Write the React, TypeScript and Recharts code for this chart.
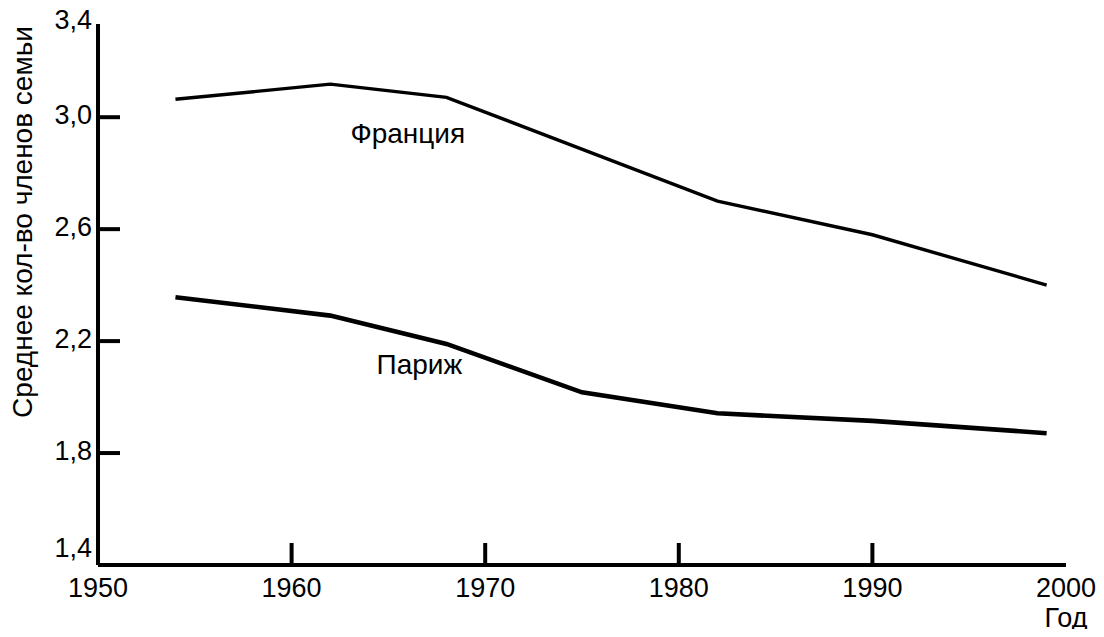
import React from 'react';
import { LineChart, Line, XAxis, YAxis, ReferenceDot } from 'recharts';

const franceYears = [1954, 1962, 1968, 1982, 1990, 1999];
const franceValues = [3.064, 3.118, 3.071, 2.70, 2.58, 2.40];
const parisYears = [1954, 1962, 1968, 1975, 1982, 1990, 1999];
const parisValues = [2.357, 2.291, 2.19, 2.017, 1.942, 1.915, 1.871];

const xTicks = [1950, 1960, 1970, 1980, 1990, 2000];
const xTickLabels = ['1950', '1960', '1970', '1980', '1990', '2000'];
const yTicks = [1.4, 1.8, 2.2, 2.6, 3.0, 3.333];
const yTickLabels = ['1,4', '1,8', '2,2', '2,6', '3,0', '3,4'];

const seriesNames = ['Франция', 'Париж'];
const nameYears = [1966.0, 1966.6];
const nameValues = [2.943, 2.117];

const xTitle = 'Год';
const yTitle = 'Среднее кол-во членов семьи';

const franceData = franceYears.map((year, i) => ({ year, value: franceValues[i] }));
const parisData = parisYears.map((year, i) => ({ year, value: parisValues[i] }));

const FONT = '"Liberation Sans", Arial, sans-serif';
const FS_TICK = 27;
const FS_TEXT = 28;

const BottomTick = (props: any) => {
  const { x, y, payload } = props;
  const v = payload.value;
  const i = xTicks.indexOf(v);
  const inner = i > 0 && i < xTicks.length - 1;
  return (
    <g>
      {inner && <line x1={x} x2={x} y1={y} y2={y - 22} stroke="#000" strokeWidth={4} />}
      <text x={x} y={y + 32} textAnchor="middle" fontSize={FS_TICK} fontFamily={FONT} fill="#000">
        {xTickLabels[i]}
      </text>
    </g>
  );
};

const TopTick = (props: any) => {
  const { x, y, payload } = props;
  const i = xTicks.indexOf(payload.value);
  const inner = i > 0 && i < xTicks.length - 1;
  return inner ? <line x1={x} x2={x} y1={y} y2={y + 21} stroke="#000" strokeWidth={2} /> : <g />;
};

const LeftTick = (props: any) => {
  const { x, y, payload } = props;
  const i = yTicks.indexOf(payload.value);
  const inner = i > 0 && i < yTicks.length - 1;
  let dy = 7;
  if (i === 0) dy = -8;
  if (i === yTicks.length - 1) dy = 5;
  return (
    <g>
      {inner && <line x1={x} x2={x + 22} y1={y} y2={y} stroke="#000" strokeWidth={4} />}
      <text x={x - 6} y={y + dy} textAnchor="end" fontSize={FS_TICK} fontFamily={FONT} fill="#000">
        {yTickLabels[i]}
      </text>
    </g>
  );
};

const RightTick = (props: any) => {
  const { x, y, payload } = props;
  const i = yTicks.indexOf(payload.value);
  const inner = i > 0 && i < yTicks.length - 1;
  return inner ? <line x1={x} x2={x - 23} y1={y} y2={y} stroke="#333" strokeWidth={2} /> : <g />;
};

const XTitle = (props: any) => {
  const vb = props.viewBox || {};
  return (
    <text x={vb.x + vb.width} y={vb.y + 62} textAnchor="middle" fontSize={FS_TICK} fontFamily={FONT} fill="#000">
      {xTitle}
    </text>
  );
};

const YTitle = (props: any) => {
  const vb = props.viewBox || {};
  const cx = vb.x + 22;
  const cy = 222;
  return (
    <text
      x={cx}
      y={cy}
      textAnchor="middle"
      dominantBaseline="central"
      transform={`rotate(-90, ${cx}, ${cy})`}
      fontSize={FS_TEXT}
      fontFamily={FONT}
      fill="#000"
    >
      {yTitle}
    </text>
  );
};

export default function App() {
  return (
    <div style={{ fontFamily: FONT, background: '#fff', margin: -8 }}>
      <LineChart
        width={1104}
        height={637}
        margin={{ top: 24, right: 38, bottom: 0, left: 0 }}
        style={{ fontFamily: FONT, overflow: 'visible' }}
      >
        <XAxis
          xAxisId="main"
          type="number"
          dataKey="year"
          domain={[1950, 2000]}
          ticks={xTicks}
          interval={0}
          allowDataOverflow
          height={72}
          tickSize={0}
          tickMargin={0}
          tickLine={false}
          axisLine={{ stroke: '#000', strokeWidth: 4 }}
          tick={<BottomTick />}
          label={<XTitle />}
        />
        <XAxis
          xAxisId="top"
          orientation="top"
          type="number"
          dataKey="year"
          domain={[1950, 2000]}
          ticks={xTicks}
          interval={0}
          allowDataOverflow
          height={0}
          tickSize={0}
          tickMargin={0}
          tickLine={false}
          axisLine={{ stroke: '#000', strokeWidth: 2 }}
          tick={<TopTick />}
        />
        <YAxis
          yAxisId="main"
          type="number"
          domain={[1.4, 3.333]}
          ticks={yTicks}
          interval={0}
          allowDataOverflow
          width={98}
          tickSize={0}
          tickMargin={0}
          tickLine={false}
          axisLine={{ stroke: '#000', strokeWidth: 4 }}
          tick={<LeftTick />}
          label={<YTitle />}
        />
        <YAxis
          yAxisId="right"
          orientation="right"
          type="number"
          domain={[1.4, 3.333]}
          ticks={yTicks}
          interval={0}
          allowDataOverflow
          width={0}
          tickSize={0}
          tickMargin={0}
          tickLine={false}
          axisLine={{ stroke: '#444', strokeWidth: 2 }}
          tick={<RightTick />}
        />
        <Line
          xAxisId="main"
          yAxisId="main"
          data={franceData}
          dataKey="value"
          name={seriesNames[0]}
          stroke="#000"
          strokeWidth={3.4}
          dot={false}
          activeDot={false}
          isAnimationActive={false}
        />
        <Line
          xAxisId="main"
          yAxisId="main"
          data={parisData}
          dataKey="value"
          name={seriesNames[1]}
          stroke="#000"
          strokeWidth={4.6}
          dot={false}
          activeDot={false}
          isAnimationActive={false}
        />
        {seriesNames.map((n, i) => (
          <ReferenceDot
            key={n}
            xAxisId="main"
            yAxisId="main"
            x={nameYears[i]}
            y={nameValues[i]}
            r={0}
            fill="none"
            stroke="none"
            label={{ value: n, position: 'center', fontSize: FS_TEXT, fill: '#000', fontFamily: FONT }}
          />
        ))}
      </LineChart>
    </div>
  );
}
